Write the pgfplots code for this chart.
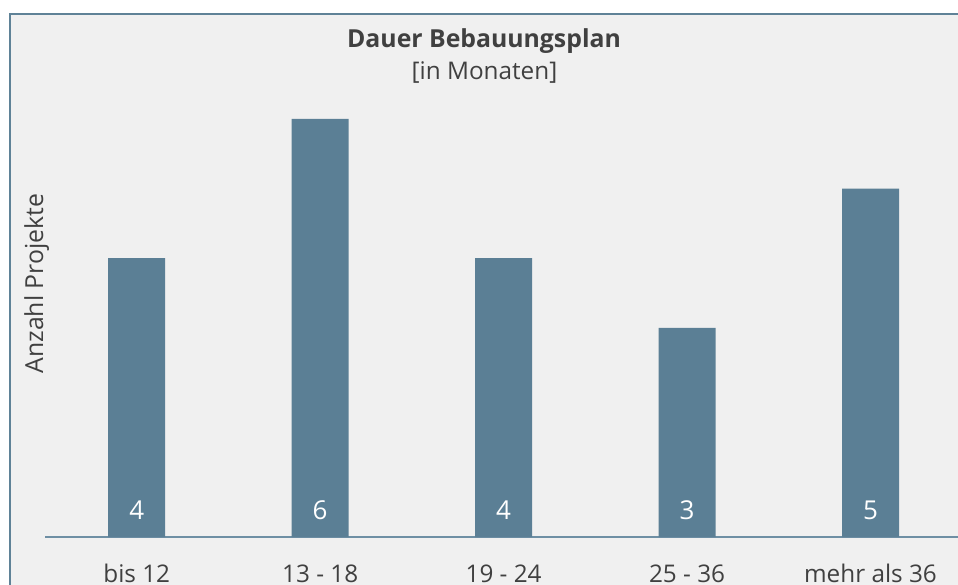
\documentclass[border=0pt]{standalone}
\usepackage{pgfplots}
\pgfplotsset{compat=1.18}
\usepackage{fontspec}
\setmainfont{Open Sans}
\definecolor{bgc}{HTML}{F0F0F0}
\definecolor{barc}{HTML}{5B7F95}
\definecolor{framec}{HTML}{5F8297}
\definecolor{linec}{HTML}{6E8FA4}
\definecolor{txtc}{HTML}{404040}
\begin{document}
\begin{tikzpicture}[x=1pt,y=1pt]
\clip (0,0) rectangle (958,584);
\path[use as bounding box] (0,0) rectangle (958,584);
\draw[framec, line width=2pt, fill=bgc] (9.5,-20) rectangle (990,569.5);
\node[anchor=base, text=txtc, font=\fontsize{24.8}{29}\selectfont\bfseries] at (484,536.7) {Dauer Bebauungsplan};
\node[anchor=base, text=txtc, font=\fontsize{24.3}{29}\selectfont] at (484.5,504) {[in Monaten]};
\node[anchor=base, rotate=90, text=txtc, font=\fontsize{24.8}{29}\selectfont] at (43,300.5) {Anzahl Projekte};
\begin{axis}[
  at={(45pt,47pt)}, anchor=south west,
  scale only axis, width=913pt, height=453pt,
  xmin=-0.5, xmax=4.477, ymin=0, ymax=6.5,
  axis x line=bottom, axis y line=none,
  x axis line style={-, draw=linec, line width=1.5pt},
  xtick={0,1,2,3,4},
  xticklabels={bis 12, 13 - 18, 19 - 24, 25 - 36, mehr als 36},
  xtick style={draw=none},
  ytick=\empty,
  xticklabel style={anchor=base, yshift=-43pt, inner sep=0pt, text=txtc, font=\fontsize{24.3}{29}\selectfont},
  clip=false,
]
\addplot[ybar, bar width=57pt, fill=barc, draw=none] coordinates {(0,4) (1,6) (2,4) (3,3) (4,5)};
\addplot[draw=none, mark=none, point meta=explicit symbolic, nodes near coords,
  every node near coord/.style={anchor=base, inner sep=0pt, text=white, font=\fontsize{26}{30}\selectfont}]
  coordinates {(0,0.258)[4] (1,0.258)[6] (2,0.258)[4] (3,0.258)[3] (4,0.258)[5]};
\end{axis}
\end{tikzpicture}
\end{document}
